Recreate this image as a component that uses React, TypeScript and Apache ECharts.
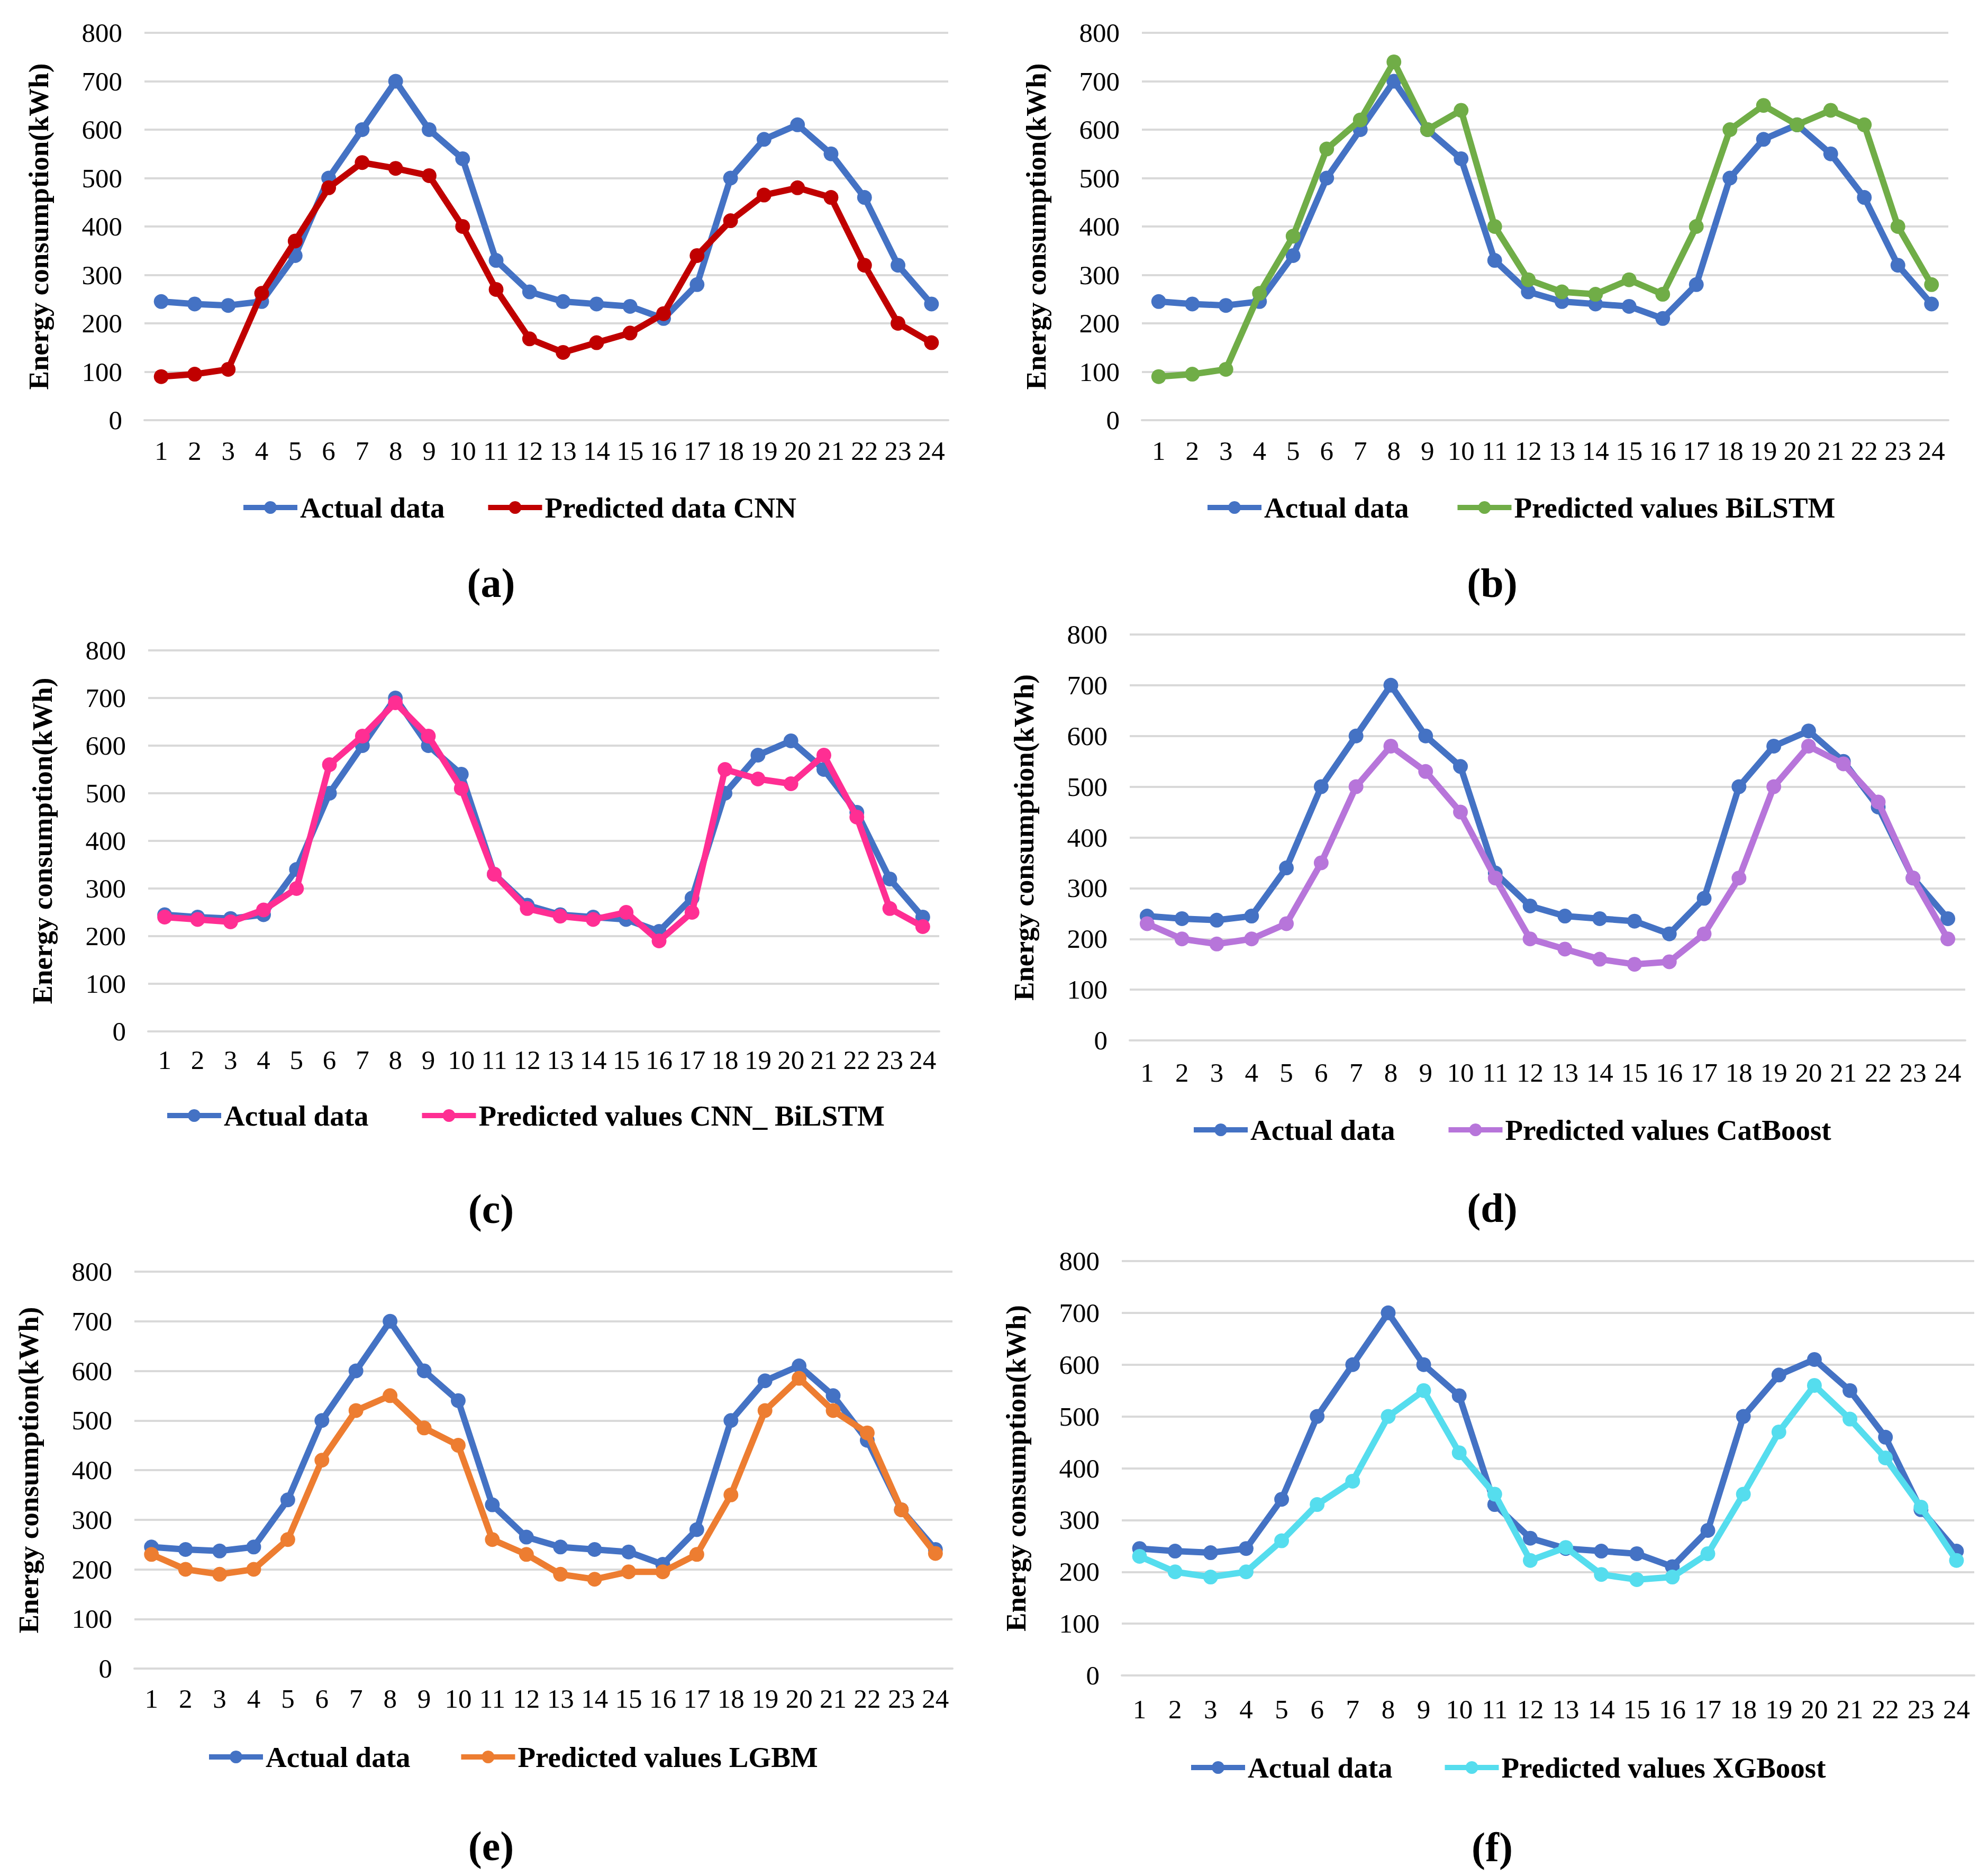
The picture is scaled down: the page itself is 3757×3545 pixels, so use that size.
import React, { useEffect, useRef } from "react";
import * as echarts from "echarts";

const hours = ["1", "2", "3", "4", "5", "6", "7", "8", "9", "10", "11", "12", "13", "14", "15", "16", "17", "18", "19", "20", "21", "22", "23", "24"];
const yTicks = { min: 0, max: 800, interval: 100 };

const actualData = [245, 240, 237, 245, 340, 500, 600, 700, 600, 540, 330, 265, 245, 240, 235, 210, 280, 500, 580, 610, 550, 460, 320, 240];
const cnnData = [90, 95, 105, 262, 370, 480, 532, 520, 505, 400, 270, 168, 140, 160, 180, 220, 340, 412, 465, 480, 460, 320, 200, 160];
const bilstmData = [90, 95, 105, 262, 380, 560, 620, 740, 600, 640, 400, 290, 265, 260, 290, 260, 400, 600, 650, 610, 640, 610, 400, 280];
const cnnBilstmData = [240, 235, 230, 255, 300, 560, 620, 690, 620, 510, 330, 258, 242, 235, 250, 190, 250, 550, 530, 520, 580, 450, 258, 220];
const catboostData = [230, 200, 190, 200, 230, 350, 500, 580, 530, 450, 320, 200, 180, 160, 150, 155, 210, 320, 500, 580, 545, 470, 320, 200];
const lgbmData = [230, 200, 190, 200, 260, 420, 520, 550, 485, 450, 260, 230, 190, 180, 195, 195, 230, 350, 520, 585, 520, 475, 320, 232];
const xgboostData = [230, 200, 190, 200, 260, 330, 375, 500, 550, 430, 350, 222, 247, 195, 185, 190, 235, 350, 470, 560, 495, 420, 325, 222];

const actualName = "Actual data";
const predNames = ["Predicted data CNN", "Predicted values BiLSTM", "Predicted values CNN_ BiLSTM", "Predicted values CatBoost", "Predicted values LGBM", "Predicted values XGBoost"];
const predSeries = [cnnData, bilstmData, cnnBilstmData, catboostData, lgbmData, xgboostData];
const captions = ["(a)", "(b)", "(c)", "(d)", "(e)", "(f)"];
const yAxisTitle = "Energy consumption(kWh)";

const ACTUAL_COLOR = "#4472C4";
const predColors = ["#C00000", "#70AD47", "#FF2E93", "#B775DA", "#ED7D31", "#55DDEE"];

const W = 3757;
const H = 3545;
const FONT = "'Liberation Serif', 'Times New Roman', serif";

const layouts = [
  { grid: { left: 273, right: 1965, top: 62, bottom: 2751 }, legend: { left: 455, cy: 959, gap: 77 }, cap: { x: 928, y: 1101 }, margin: 32 },
  { grid: { left: 2158, right: 75, top: 62, bottom: 2751 }, legend: { left: 2277, cy: 959, gap: 87 }, cap: { x: 2820, y: 1101 }, margin: 32 },
  { grid: { left: 280, right: 1982, top: 1229, bottom: 1596 }, legend: { left: 311, cy: 2108, gap: 96 }, cap: { x: 928, y: 2284 }, margin: 28 },
  { grid: { left: 2135, right: 43, top: 1199, bottom: 1579 }, legend: { left: 2251, cy: 2135, gap: 96 }, cap: { x: 2820, y: 2282 }, margin: 35 },
  { grid: { left: 254, right: 1957, top: 2403, bottom: 392 }, legend: { left: 390, cy: 3320, gap: 91 }, cap: { x: 928, y: 3488 }, margin: 31 },
  { grid: { left: 2120, right: 26, top: 2383, bottom: 379 }, legend: { left: 2246, cy: 3340, gap: 94 }, cap: { x: 2820, y: 3490 }, margin: 38 },
];

function buildOption() {
  const grid: any[] = [];
  const xAxis: any[] = [];
  const yAxis: any[] = [];
  const series: any[] = [];
  const legend: any[] = [];
  const graphic: any[] = [];

  layouts.forEach((lay, i) => {
    grid.push({ ...lay.grid });
    xAxis.push({
      type: "category",
      gridIndex: i,
      data: hours,
      boundaryGap: true,
      axisLine: { show: true, lineStyle: { color: "#D9D9D9", width: 4 } },
      axisTick: { show: false },
      axisLabel: { color: "#000", fontSize: 51, fontFamily: FONT, margin: lay.margin, interval: 0 },
      splitLine: { show: false },
    });
    yAxis.push({
      type: "value",
      gridIndex: i,
      min: yTicks.min,
      max: yTicks.max,
      interval: yTicks.interval,
      axisLine: { show: false },
      axisTick: { show: false },
      axisLabel: { color: "#000", fontSize: 51, fontFamily: FONT, margin: 42 },
      splitLine: { show: true, lineStyle: { color: "#D9D9D9", width: 4 } },
      name: yAxisTitle,
      nameLocation: "middle",
      nameGap: 174,
      nameTextStyle: { color: "#000", fontSize: 53, fontWeight: "bold", fontFamily: FONT },
    });
    const common = {
      type: "line",
      xAxisIndex: i,
      yAxisIndex: i,
      symbol: "circle",
      symbolSize: 28,
    };
    series.push({
      ...common,
      name: actualName,
      data: actualData,
      itemStyle: { color: ACTUAL_COLOR },
      lineStyle: { width: 12, color: ACTUAL_COLOR },
      z: 2,
    });
    series.push({
      ...common,
      name: predNames[i],
      data: predSeries[i],
      itemStyle: { color: predColors[i] },
      lineStyle: { width: 12, color: predColors[i] },
      z: 3,
    });
    legend.push({
      data: [actualName, predNames[i]],
      left: lay.legend.left,
      top: lay.legend.cy - 32,
      padding: 0,
      itemGap: lay.legend.gap,
      itemWidth: 102,
      itemHeight: 30,
      selectedMode: false,
      lineStyle: { width: 10 },
      textStyle: { color: "#000", fontSize: 55, fontWeight: "bold", fontFamily: FONT, lineHeight: 64, padding: [0, 0, 0, 0] },
    });
    graphic.push({
      type: "text",
      x: lay.cap.x,
      y: lay.cap.y,
      style: {
        text: captions[i],
        fill: "#000",
        fontSize: 78,
        fontWeight: "bold",
        fontFamily: FONT,
        align: "center",
        verticalAlign: "middle",
        textAlign: "center",
        textVerticalAlign: "middle",
      },
    });
  });

  return {
    animation: false,
    backgroundColor: "#ffffff",
    grid,
    xAxis,
    yAxis,
    series,
    legend,
    graphic,
  };
}

export default function App() {
  const ref = useRef<HTMLDivElement>(null);
  useEffect(() => {
    document.body.style.margin = "0";
    if (!ref.current) return;
    const chart = echarts.init(ref.current, null, { renderer: "svg", width: W, height: H });
    chart.setOption(buildOption());
    return () => chart.dispose();
  }, []);
  return <div ref={ref} style={{ width: W, height: H, background: "#fff" }} />;
}
